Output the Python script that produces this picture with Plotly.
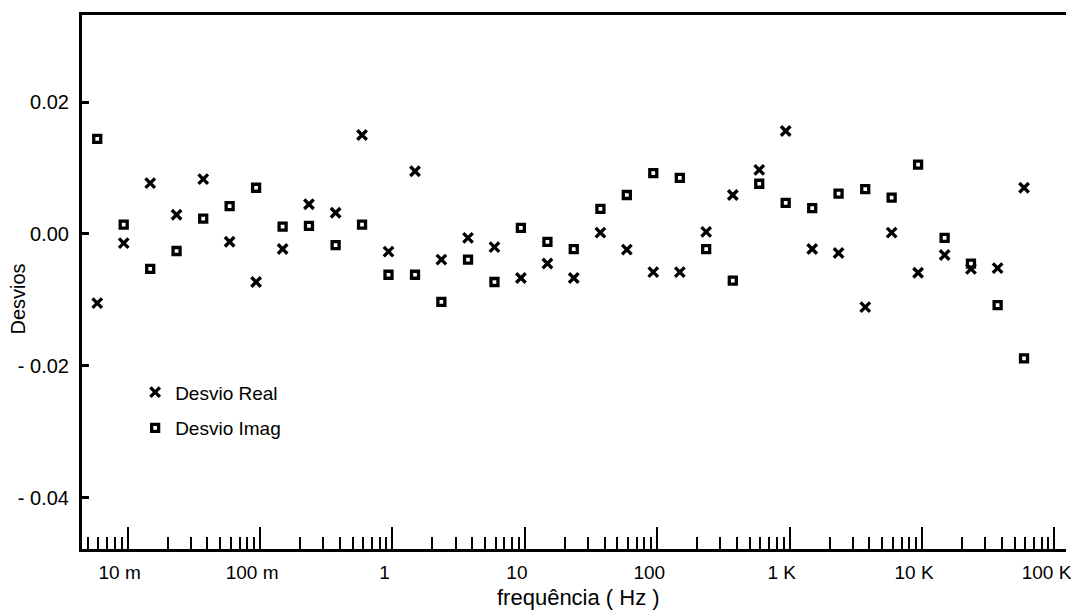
import plotly.graph_objects as go

# Frequencies (Hz), five points per decade
freq = [0.00589, 0.00933, 0.0148, 0.0234, 0.0372,
        0.0589, 0.0933, 0.148, 0.234, 0.372,
        0.589, 0.933, 1.48, 2.34, 3.72,
        5.89, 9.33, 14.8, 23.4, 37.2,
        58.9, 93.3, 148, 234, 372,
        589, 933, 1480, 2340, 3720,
        5890, 9330, 14800, 23400, 37200,
        58900]

desvio_real = [-0.0105, -0.0014, 0.0077, 0.0029, 0.0083,
               -0.0012, -0.0073, -0.0023, 0.0045, 0.0032,
               0.0150, -0.0027, 0.0095, -0.0039, -0.0006,
               -0.0020, -0.0067, -0.0045, -0.0067, 0.0002,
               -0.0024, -0.0058, -0.0058, 0.0003, 0.0059,
               0.0097, 0.0156, -0.0023, -0.0029, -0.0111,
               0.0002, -0.0059, -0.0032, -0.0053, -0.0052,
               0.0070]

desvio_imag = [0.0144, 0.0014, -0.0053, -0.0026, 0.0023,
               0.0042, 0.0070, 0.0011, 0.0012, -0.0017,
               0.0014, -0.0062, -0.0062, -0.0103, -0.0039,
               -0.0073, 0.0009, -0.0012, -0.0023, 0.0038,
               0.0059, 0.0092, 0.0085, -0.0023, -0.0071,
               0.0076, 0.0047, 0.0039, 0.0061, 0.0068,
               0.0055, 0.0105, -0.0006, -0.0045, -0.0108,
               -0.0189]

x_tickvals = [0.01, 0.1, 1, 10, 100, 1000, 10000, 100000]
x_ticktext = ["10 m", "100 m", "1", "10", "100", "1 K", "10 K", "100 K"]
y_tickvals = [0.02, 0.0, -0.02, -0.04]
y_ticktext = ["0.02", "0.00", "- 0.02", "- 0.04"]

FONT = "Arial, 'Liberation Sans', sans-serif"

# minor ticks at 2..9 of each decade
minor_vals = [m * 10.0 ** e for e in range(-3, 6) for m in range(2, 10)]

fig = go.Figure()
fig.add_trace(go.Scatter(
    x=freq, y=desvio_real, mode="markers", name="Desvio Real",
    legendgroup="real",
    marker=dict(symbol="x-thin", size=9.5, color="black",
                line=dict(color="black", width=3.3)),
))
fig.add_trace(go.Scatter(
    x=freq, y=desvio_imag, mode="markers", name="Desvio Imag",
    legendgroup="imag",
    marker=dict(symbol="square-open", size=7, color="black",
                line=dict(color="black", width=3.3)),
))

fig.update_layout(
    width=1075, height=615,
    margin=dict(l=82, r=3, t=15, b=66),
    paper_bgcolor="white", plot_bgcolor="white",
    font=dict(family=FONT, size=19, color="black"),
    showlegend=True,
    legend=dict(x=0.054, y=0.329, xanchor="left", yanchor="top",
                bgcolor="rgba(0,0,0,0)", font=dict(size=19),
                tracegroupgap=8, itemwidth=30),
    annotations=[
        dict(text="frequência ( Hz )", xref="paper", yref="paper",
             x=0.505, y=-0.09, xanchor="center", yanchor="middle",
             showarrow=False, font=dict(size=22)),
        dict(text="Desvios", xref="paper", yref="paper",
             x=-0.0646, y=0.468, xanchor="center", yanchor="middle",
             textangle=-90, showarrow=False, font=dict(size=20)),
    ],
)

fig.update_xaxes(
    type="log", range=[-2.345, 5.087],
    showgrid=False, zeroline=False,
    showline=True, linecolor="black", linewidth=3, mirror=True,
    tickmode="array", tickvals=x_tickvals, ticktext=x_ticktext,
    ticks="inside", ticklen=22, tickwidth=2, tickcolor="black",
    ticklabelshift=-8, ticklabelstandoff=4,
    ticklabeloverflow="allow",
    tickfont=dict(size=19),
    minor=dict(tickmode="array", tickvals=minor_vals, ticks="inside",
               ticklen=12, tickwidth=2, tickcolor="black", showgrid=False),
)
fig.update_yaxes(
    range=[-0.0478, 0.0332],
    showgrid=False, zeroline=False,
    showline=True, linecolor="black", linewidth=3,
    tickmode="array", tickvals=y_tickvals, ticktext=y_ticktext,
    ticks="inside", ticklen=7, tickwidth=3, tickcolor="black",
    ticklabelstandoff=6,
    tickfont=dict(size=20),
)

fig.write_html("out.html")
